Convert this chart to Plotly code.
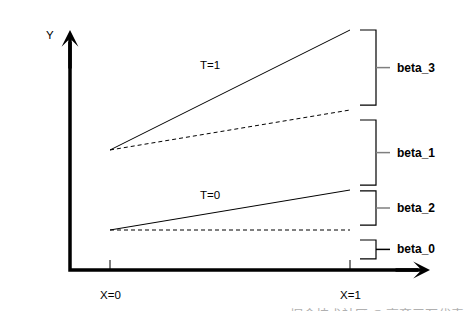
import plotly.graph_objects as go

# ---- data ----
x_pos = [0, 1]
x_labels = ["X=0", "X=1"]

beta_0 = 1.0
beta_1 = 2.0
beta_2 = 1.0
beta_3 = 2.0

t0_solid = [beta_0, beta_0 + beta_2]
t0_dashed = [beta_0, beta_0]
t1_solid = [beta_0 + beta_1, beta_0 + beta_1 + beta_2 + beta_3]
t1_dashed = [beta_0 + beta_1, beta_0 + beta_1 + beta_2]

bracket_names = ["beta_3", "beta_1", "beta_2", "beta_0"]
bracket_lo = [4.12, 2.12, 1.12, 0.28]
bracket_hi = [6.0, 3.75, 1.98, 0.75]
bracket_tick_colors = ["#7f7f7f", "#7f7f7f", "#7f7f7f", "#000000"]

# ---- layout helpers ----
W, H = 466, 311
XR = [-110 / 240, 356 / 240]
YR = [-41 / 40, 270 / 40]
AX_X = -40 / 240          # y-axis position in data units
X_TIP = 320 / 240         # x-axis arrow tip
Y_TIP = t1_solid[1]       # y-axis arrow tip
FONT = "Liberation Sans, Arial, Helvetica, sans-serif"

fig = go.Figure()

line_style = dict(color="black", width=1)
fig.add_trace(go.Scatter(x=x_pos, y=t1_solid, mode="lines", line=line_style, hoverinfo="skip"))
fig.add_trace(go.Scatter(x=x_pos, y=t1_dashed, mode="lines",
                         line=dict(color="black", width=1, dash="4px,3px"), hoverinfo="skip"))
fig.add_trace(go.Scatter(x=x_pos, y=t0_solid, mode="lines", line=line_style, hoverinfo="skip"))
fig.add_trace(go.Scatter(x=x_pos, y=t0_dashed, mode="lines",
                         line=dict(color="black", width=1, dash="4px,3px"), hoverinfo="skip"))

shapes = []
# axes L-shape
shapes.append(dict(type="path", xref="x", yref="y",
                   path=f"M {AX_X},{Y_TIP - 0.3} L {AX_X},0 L {X_TIP - 0.05},0",
                   line=dict(color="black", width=3.5)))
# x ticks
for xv in x_pos:
    shapes.append(dict(type="line", xref="x", yref="y", x0=xv, x1=xv, y0=0, y1=0.25,
                       line=dict(color="black", width=1)))
# brackets
bx0, bx1, bx2 = 250 / 240, 266 / 240, 280 / 240
for lo, hi, tc in zip(bracket_lo, bracket_hi, bracket_tick_colors):
    shapes.append(dict(type="path", xref="x", yref="y",
                       path=f"M {bx0},{hi} L {bx1},{hi} L {bx1},{lo} L {bx0},{lo}",
                       line=dict(color="black", width=1.2)))
    mid = (lo + hi) / 2
    shapes.append(dict(type="line", xref="x", yref="y", x0=bx1, x1=bx2, y0=mid, y1=mid,
                       line=dict(color=tc, width=1.5)))

ann = []
# arrowheads
ann.append(dict(x=AX_X, y=Y_TIP, ax=AX_X, ay=Y_TIP - 1.0, xref="x", yref="y", axref="x", ayref="y",
                showarrow=True, arrowhead=3, arrowsize=0.8, arrowwidth=3.5, arrowcolor="black", text=""))
ann.append(dict(x=X_TIP, y=0, ax=X_TIP - 0.15, ay=0, xref="x", yref="y", axref="x", ayref="y",
                showarrow=True, arrowhead=3, arrowsize=0.8, arrowwidth=3.5, arrowcolor="black", text=""))
# texts
ann.append(dict(x=-60 / 240, y=235.5 / 40, xref="x", yref="y", text="Y", showarrow=False,
                font=dict(family=FONT, size=11.5, color="black")))
ann.append(dict(x=99.5 / 240, y=205 / 40, xref="x", yref="y", text="T=1", showarrow=False,
                font=dict(family=FONT, size=11.5, color="black")))
ann.append(dict(x=99.5 / 240, y=75 / 40, xref="x", yref="y", text="T=0", showarrow=False,
                font=dict(family=FONT, size=11.5, color="black")))
for xv, lab in zip(x_pos, x_labels):
    ann.append(dict(x=xv, y=-25 / 40, xref="x", yref="y", text=lab, showarrow=False,
                    font=dict(family=FONT, size=11.5, color="black")))
for name, lo, hi in zip(bracket_names, bracket_lo, bracket_hi):
    ann.append(dict(x=285 / 240, y=(lo + hi) / 2, xref="x", yref="y", text=f"<b>{name}</b>",
                    showarrow=False, xanchor="left",
                    font=dict(family=FONT, size=12, color="black")))
# watermark (cut off at bottom, as in the reference)
ann.append(dict(x=377 / W, y=(H - 302) / H, xref="paper", yref="paper", text="掘金技术社区 @ 高斋三万代表",
                showarrow=False, xanchor="center", yanchor="top",
                font=dict(family="Noto Sans CJK SC", size=13, color="#b0b0b0")))

fig.update_layout(
    width=W, height=H, margin=dict(l=0, r=0, t=0, b=0),
    paper_bgcolor="white", plot_bgcolor="white", showlegend=False,
    xaxis=dict(range=XR, visible=False, fixedrange=True),
    yaxis=dict(range=YR, visible=False, fixedrange=True),
    shapes=shapes, annotations=ann,
)

fig.write_html("out.html")
